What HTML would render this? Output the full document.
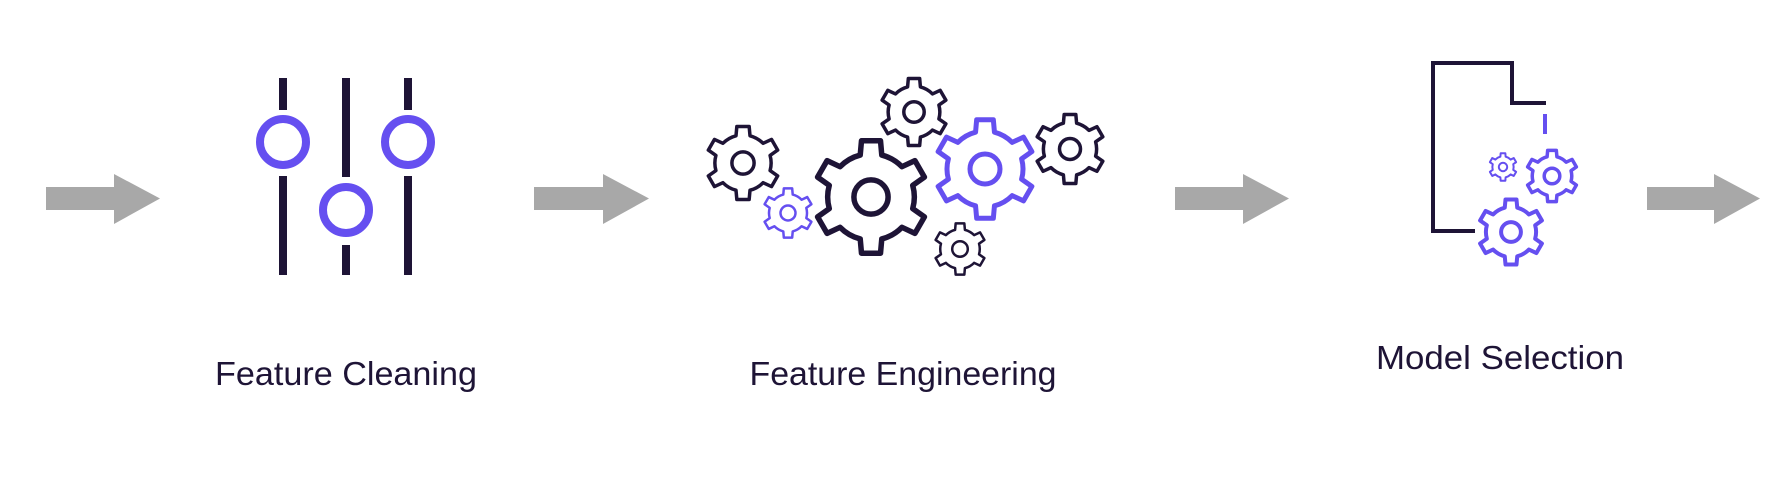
<!DOCTYPE html>
<html><head><meta charset="utf-8"><style>
html,body{margin:0;padding:0;background:#fff;}
svg{display:block;}
text{font-family:"Liberation Sans",sans-serif;fill:#1e1436;}
</style></head><body>
<svg id="s" width="1792" height="480" viewBox="0 0 1792 480" xmlns="http://www.w3.org/2000/svg">
<g fill="#a8a8a8">
<polygon points="46,187 114,187 114,174 160,198.5 114,224 114,210 46,210"/>
<polygon points="534,187 603,187 603,174 649,198.5 603,224 603,210 534,210"/>
<polygon points="1175,187 1243,187 1243,174 1289,198.5 1243,224 1243,210 1175,210"/>
<polygon points="1647,187 1714,187 1714,174 1760,198.5 1714,224 1714,210 1647,210"/>
</g>
<g stroke="#1e1436" stroke-width="8" fill="none">
<line x1="283" y1="78" x2="283" y2="110"/><line x1="283" y1="176" x2="283" y2="275"/>
<line x1="346" y1="78" x2="346" y2="177"/><line x1="346" y1="245" x2="346" y2="275"/>
<line x1="408" y1="78" x2="408" y2="110"/><line x1="408" y1="176" x2="408" y2="275"/>
</g>
<g stroke="#654ff0" stroke-width="8" fill="none">
<circle cx="283" cy="142" r="23"/><circle cx="408" cy="142" r="23"/><circle cx="346" cy="210" r="23"/>
</g>
<g id="gears"></g>
<g stroke="#1e1436" stroke-width="4" fill="none">
<polyline points="1475,231 1433,231 1433,63 1512,63 1512,103 1546,103"/>
</g>
<line x1="1545" y1="114" x2="1545" y2="134" stroke="#654ff0" stroke-width="4"/>
<text x="346" y="385" font-size="33" font-weight="500" text-anchor="middle" textLength="262" lengthAdjust="spacingAndGlyphs">Feature Cleaning</text>
<text x="903" y="385" font-size="33" font-weight="500" text-anchor="middle" textLength="307" lengthAdjust="spacingAndGlyphs">Feature Engineering</text>
<text x="1500" y="369" font-size="33" font-weight="500" text-anchor="middle" textLength="248" lengthAdjust="spacingAndGlyphs">Model Selection</text>
</svg>
<script>
var D="#1e1436",P="#654ff0";
var gs=[[871,197,57,D,5.5],[985,169,50,P,5],[914,112,34,D,3.5],[743,163,37,D,3.5],[1070,149,35,D,3.5],[788,213,25,P,2.5],[960,249,26,D,2.5],
[1503,167,14,P,2],[1552,176,26,P,3.5],[1511,232,33,P,4]];
var g=document.getElementById('gears'),ns="http://www.w3.org/2000/svg";
gs.forEach(function(a){
 var cx=a[0],cy=a[1],R=a[2],r=R*0.76,n=6,d="",step=Math.PI*2/n;
 for(var i=0;i<n;i++){
  var t=i*step-Math.PI/2;
  var pts=[[r,t-step*0.24],[R,t-step*0.16],[R,t+step*0.16],[r,t+step*0.24]];
  pts.forEach(function(p,j){
   var x=cx+p[0]*Math.cos(p[1]),y=cy+p[0]*Math.sin(p[1]);
   if(i==0&&j==0)d+="M"+x+","+y;
   else if(j==0)d+=" A"+r+","+r+" 0 0 1 "+x+","+y;
   else d+=" L"+x+","+y;
  });
 }
 var x0=cx+r*Math.cos(-Math.PI/2-step*0.24),y0=cy+r*Math.sin(-Math.PI/2-step*0.24);
 d+=" A"+r+","+r+" 0 0 1 "+x0+","+y0+"Z";
 var p=document.createElementNS(ns,'path');
 p.setAttribute('d',d);p.setAttribute('fill','#fff');p.setAttribute('stroke',a[3]);p.setAttribute('stroke-width',a[4]);p.setAttribute('stroke-linejoin','round');
 g.appendChild(p);
 var c=document.createElementNS(ns,'circle');
 c.setAttribute('cx',cx);c.setAttribute('cy',cy);c.setAttribute('r',R*0.3);
 c.setAttribute('fill','none');c.setAttribute('stroke',a[3]);c.setAttribute('stroke-width',a[4]);
 g.appendChild(c);
});
</script>
</body></html>
